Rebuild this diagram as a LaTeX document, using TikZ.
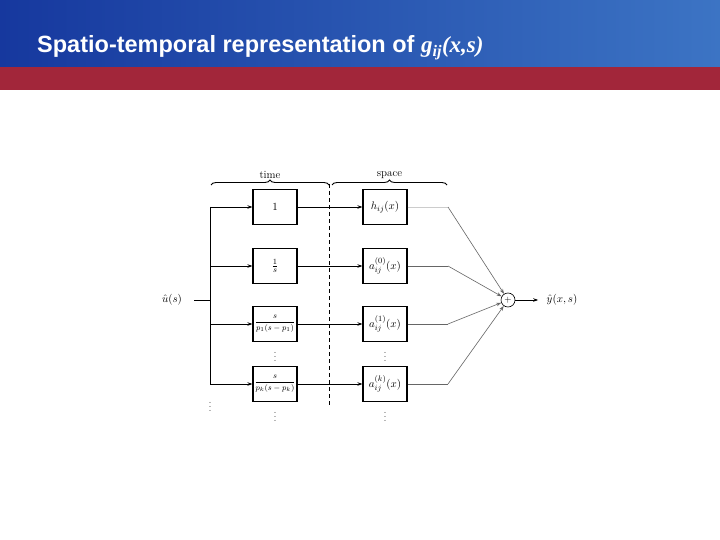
\documentclass[tikz,border=0pt]{standalone}
\usepackage{amsmath}
\usepackage{amssymb}
\usepackage{fontspec}
\newfontfamily\headfont{Liberation Sans}
\newfontfamily\headserif{Liberation Serif}
\usetikzlibrary{arrows.meta,decorations.pathreplacing}

\definecolor{HeadBlueL}{RGB}{22,56,158}
\definecolor{HeadBlueR}{RGB}{60,116,196}
\definecolor{HeadRed}{RGB}{162,38,58}

\begin{document}
\begin{tikzpicture}[
		x=1pt,
		y=-1pt,
		every node/.style={font=\fontsize{11}{13}\selectfont},
		blockbox/.style={draw, line width=1.1pt, minimum width=44pt, minimum height=35pt, inner sep=0pt},
		fracbox/.style={blockbox, font=\fontsize{8.5}{10}\selectfont},
		sumnode/.style={draw, circle, line width=0.6pt, minimum size=14pt, inner sep=0pt, font=\small},
		dotmark/.style={text=black!70, inner sep=0pt},
		feed/.style={line width=0.8pt, -{Stealth[length=5pt,width=3.5pt]}},
		weight/.style={line width=0.6pt, draw=black!60}
		]
		
		\def\TimeX{275}
		\def\SpaceX{385}
		\def\TrunkX{210}
		\def\KneeX{448}
		
		% Page frame with the slide header.
		\useasboundingbox (0,0) rectangle (720,540);
		\fill[white] (0,0) rectangle (720,540);
		\shade[left color=HeadBlueL, right color=HeadBlueR] (0,0) rectangle (720,67);
		\fill[HeadRed] (0,67) rectangle (720,90);
		\node[anchor=base west, inner sep=0pt, text=white, font=\headfont\bfseries\fontsize{23.5}{24}\selectfont] (title) at (37,53)
		{Spatio-temporal representation of {\headserif\fontsize{23}{23}\selectfont\itshape g\textsubscript{ij}(x,s)}};
		
		% Time blocks on the left, space blocks on the right.
		\node[blockbox] (tb1) at (\TimeX,207) {$1$};
		\node[blockbox] (tb2) at (\TimeX,266) {$\frac{1}{s}$};
		\node[fracbox] (tb3) at (\TimeX,324) {$\dfrac{s}{p_1(s-p_1)}$};
		\node[fracbox] (tb4) at (\TimeX,384) {$\dfrac{s}{p_k(s-p_k)}$};
		
		\node[blockbox] (sb1) at (\SpaceX,207) {$h_{ij}(x)$};
		\node[blockbox] (sb2) at (\SpaceX,266) {$a_{ij}^{(0)}(x)$};
		\node[blockbox] (sb3) at (\SpaceX,324) {$a_{ij}^{(1)}(x)$};
		\node[blockbox] (sb4) at (\SpaceX,384) {$a_{ij}^{(k)}(x)$};
		
		% Input, summing junction and output.
		\node (uin) at (172,300) {$\hat{u}(s)$};
		\node[sumnode] (sum) at (508,300) {$+$};
		\node (yout) at (562,300) {$\hat{y}(x,s)$};
		
		% Branch points on the input trunk and knees before the sum.
		\coordinate (tin) at (\TrunkX,300);
		\foreach \i/\row in {1/207,2/266,3/324,4/384} {
			\coordinate (tr\i) at (\TrunkX,\row);
			\coordinate (kn\i) at (\KneeX,\row);
		}
		
		% Input trunk and the arrows into both columns.
		\draw[line width=0.8pt, shorten <=9pt] (uin) -- (tin);
		\draw[line width=0.8pt] (tr1) -- (tr4);
		\foreach \i in {1,...,4} {
			\draw[feed] (tr\i) -- (tb\i);
			\draw[feed] (tb\i) -- (sb\i);
		}
		
		% Weighted paths into the sum.
		\draw[weight, draw=black!20] (sb1) -- (kn1);
		\draw[weight, -{Stealth[length=5pt,width=3.5pt]}] (kn1) -- (sum);
		\foreach \i in {2,3,4} {
			\draw[weight] (sb\i) -- (kn\i);
			\draw[weight, -{Stealth[length=5pt,width=3.5pt]}] (kn\i) -- (sum);
		}
		\draw[feed, shorten >=5pt] (sum) -- (yout);
		
		% Split between time and space, with braces.
		\coordinate (dtop) at (329,184);
		\coordinate (dbot) at (329,405);
		\draw[line width=0.7pt, dash pattern=on 4pt off 3pt] (dtop) -- (dbot);
		\draw[decorate, decoration={brace, amplitude=5pt}, line width=0.9pt]
		(211,185) -- (329,185) node[midway, above=3pt] (timelbl) {time};
		\draw[decorate, decoration={brace, amplitude=5pt}, line width=0.9pt]
		(332,185) -- (447,185) node[midway, above=3pt] (spacelbl) {space};
		
		% Continuation dots.
		\node[dotmark] (trdots) at (\TrunkX,404) {$\vdots$};
		\node[dotmark] (tdots) at (\TimeX,354) {$\vdots$};
		\node[dotmark] (tdotsb) at (\TimeX,414) {$\vdots$};
		\node[dotmark] (sdots) at (\SpaceX,354) {$\vdots$};
		\node[dotmark] (sdotsb) at (\SpaceX,414) {$\vdots$};
		
	\end{tikzpicture}
\end{document}
